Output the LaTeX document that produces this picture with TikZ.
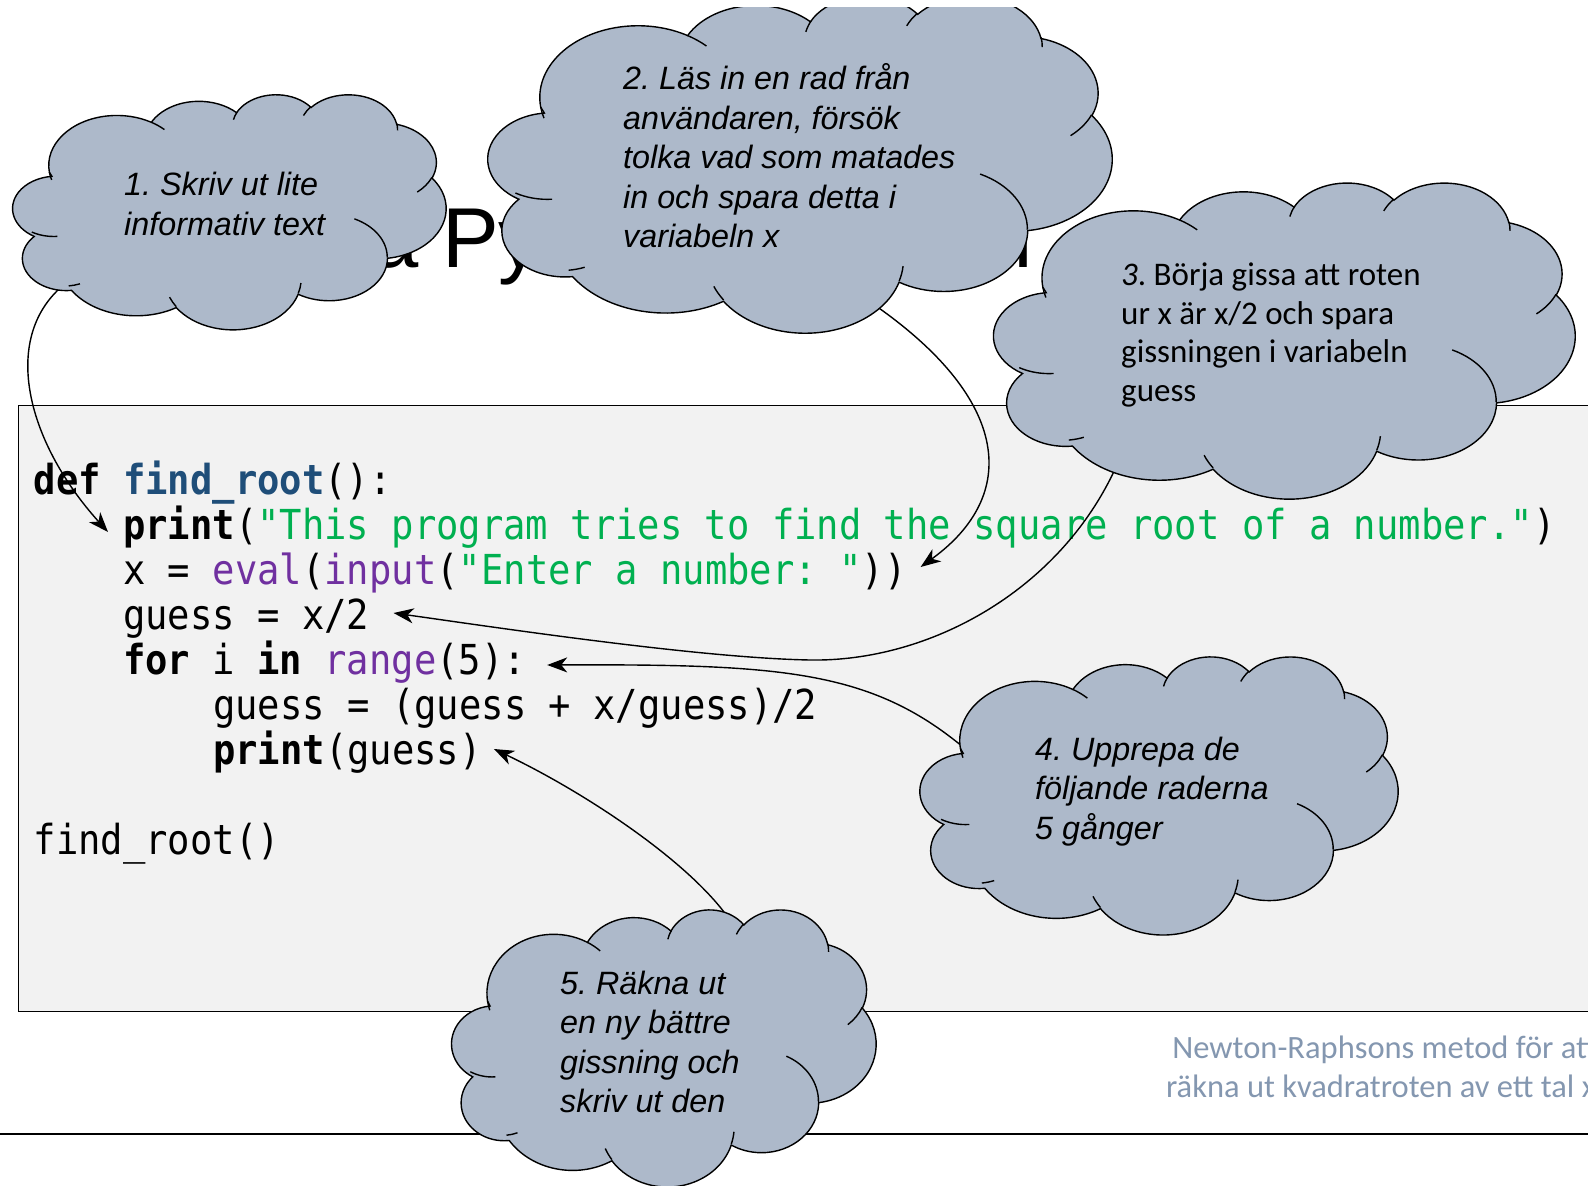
\documentclass[tikz,border=0pt]{standalone}
\usepackage{fontspec}
\usetikzlibrary{arrows.meta}
\newfontfamily\arialfont{Liberation Sans}
\newfontfamily\calfont{Carlito}
\newfontfamily\codefont[FakeStretch=0.9,WordSpace={1,0,0}]{DejaVu Sans Mono}
\definecolor{cloudfill}{RGB}{173,185,202}
\definecolor{codebg}{RGB}{242,242,242}
\definecolor{codegreen}{RGB}{0,176,80}
\definecolor{codepurple}{RGB}{112,48,160}
\definecolor{codeblue}{RGB}{31,78,121}
\definecolor{footblue}{RGB}{132,151,176}
\newcommand\cdkw[1]{{\bfseries #1}}
\newcommand\cdfn[1]{{\bfseries\color{codeblue}#1}}
\newcommand\cdstr[1]{{\color{codegreen}#1}}
\newcommand\cdbi[1]{{\color{codepurple}#1}}
% PowerPoint-like cloud (preset geometry, 432 x 432 grid)
\newcommand\cloudpt[2]{\pgfpoint{\cxo pt+(#1)*\csx pt}{\cyo pt-(#2)*\csy pt}}
\newcommand\cloudarc[4]{%
  \pgfmathsetmacro\cta{atan2((#1)*sin(#3),(#2)*cos(#3))}%
  \pgfmathsetmacro\ctb{atan2((#1)*sin((#3)+(#4)),(#2)*cos((#3)+(#4)))}%
  \pgfmathsetmacro\ctd{mod(\ctb-\cta+720,360)}%
  \pgfmathsetmacro\csa{-\cta}%
  \pgfmathsetmacro\cea{-\cta-\ctd}%
  \pgfmathsetmacro\crx{(#1)*\csx}%
  \pgfmathsetmacro\cry{(#2)*\csy}%
  \pgfpatharc{\csa}{\cea}{\crx pt and \cry pt}}
\newcommand\pptcloud[4]{%
  \begin{pgfscope}%
  \pgfmathsetmacro\cxo{#1}%
  \pgfmathsetmacro\cyo{-(#2)}%
  \pgfmathsetmacro\csx{(#3)/432}%
  \pgfmathsetmacro\csy{(#4)/432}%
  \pgfsetlinewidth{1.4pt}%
  \pgfsetfillcolor{cloudfill}\pgfsetstrokecolor{black}%
  \pgfpathmoveto{\cloudpt{39.00}{143.70}}%
  \cloudarc{67.53}{91.90}{-190.4875}{123.7805}%
  \cloudarc{53.33}{72.67}{-144.1024}{89.9452}%
  \cloudarc{43.65}{59.45}{-145.8079}{99.7230}%
  \cloudarc{48.57}{65.95}{-130.9861}{117.2417}%
  \cloudarc{53.33}{72.73}{-78.7089}{109.0269}%
  \cloudarc{67.75}{92.20}{-46.2673}{130.2690}%
  \cloudarc{57.85}{78.67}{0.6250}{114.0333}%
  \cloudarc{67.52}{92.15}{22.4516}{115.1726}%
  \cloudarc{77.20}{105.43}{66.2426}{71.2549}%
  \cloudarc{43.60}{59.18}{-274.9421}{146.7443}%
  \cloudarc{43.45}{59.45}{-246.8285}{152.5225}%
  \pgfpathclose
  \pgfusepath{fill,stroke}%
  \pgfpathmoveto{\cloudpt{46.93}{261.77}}\cloudarc{43.45}{59.45}{86.7420}{26.4295}%
  \pgfpathmoveto{\cloudpt{69.28}{348.99}}\cloudarc{43.60}{59.18}{73.6105}{11.4475}%
  \pgfpathmoveto{\cloudpt{164.78}{390.90}}\cloudarc{67.52}{92.15}{137.6242}{14.0811}%
  \pgfpathmoveto{\cloudpt{288.27}{347.51}}\cloudarc{67.52}{92.15}{6.4533}{15.9984}%
  \pgfpathmoveto{\cloudpt{341.29}{229.54}}\cloudarc{57.85}{78.67}{-70.2924}{70.9174}%
  \pgfpathmoveto{\cloudpt{417.98}{153.54}}\cloudarc{53.33}{72.73}{30.3180}{27.7515}%
  \pgfpathmoveto{\cloudpt{383.24}{54.26}}\cloudarc{48.57}{65.95}{-13.7443}{14.8589}%
  \pgfpathmoveto{\cloudpt{290.78}{39.52}}\cloudarc{48.57}{65.95}{-149.1815}{18.1954}%
  \pgfpathmoveto{\cloudpt{221.41}{47.20}}\cloudarc{43.65}{59.45}{-163.4943}{17.6864}%
  \pgfpathmoveto{\cloudpt{140.00}{51.92}}\cloudarc{67.53}{91.90}{-66.7070}{12.3194}%
  \pgfpathmoveto{\cloudpt{41.27}{157.89}}\cloudarc{67.53}{91.90}{157.6544}{11.8582}%
  \pgfusepath{stroke}%
  \end{pgfscope}}
\frenchspacing
\tikzset{
  codeline/.style={anchor=base west, inner sep=0pt, font=\codefont\fontsize{41.3}{50}\selectfont},
  cloudtxt/.style={anchor=base west, inner sep=0pt, font=\arialfont\itshape\fontsize{32.3}{39}\selectfont},
  cloudtxtc/.style={anchor=base west, inner sep=0pt, font=\calfont\fontsize{33}{39}\selectfont},
  foottxt/.style={anchor=base east, inner sep=0pt, text=footblue, font=\calfont\fontsize{32.5}{39}\selectfont},
  titletxt/.style={anchor=base west, inner sep=0pt, font=\arialfont\fontsize{85}{100}\selectfont},
  conn/.style={draw=black, line width=1.4pt, -{Stealth[length=20pt,width=15pt,inset=6pt]}},
  codebox/.style={draw=black, line width=1.3pt, fill=codebg, inner sep=0pt, anchor=north west},
}
\begin{document}
\begin{tikzpicture}[x=1pt,y=-1pt]
\useasboundingbox (0,0) rectangle (1588,1186);
\clip (0,0) rectangle (1588,1186);
\fill[white] (0,0) rectangle (1588,1186);
% title (mostly hidden by the clouds)
\node[titletxt] (title) at (50,267) {Vår första Python-funktion};
% code box
\node[codebox, minimum width=1600pt, minimum height=606pt] (box) at (18,405) {};
\node[codeline] (l1) at (33.5,494) {\cdkw{def} \cdfn{find\_root}():};
\node[codeline] (l2) at (123,539) {\cdkw{print}(\cdstr{"This program tries to find the square root of a number."})};
\node[codeline] (l3) at (123,584) {x = \cdbi{eval}(\cdbi{input}(\cdstr{"Enter a number: "}))};
\node[codeline] (l4) at (123,629) {guess = x/2};
\node[codeline] (l5) at (123,674) {\cdkw{for} i \cdkw{in} \cdbi{range}(5):};
\node[codeline] (l6) at (213,719) {guess = (guess + x/guess)/2};
\node[codeline] (l7) at (213,764) {\cdkw{print}(guess)};
\node[codeline] (l8) at (33.5,854) {find\_root()};
% footer
\draw[line width=1.5pt] (0,1134) -- (1588,1134);
\node[foottxt] (f1) at (1597,1058) {Newton-Raphsons metod för att};
\node[foottxt] (f2) at (1596,1097) {räkna ut kvadratroten av ett tal x};
% connector start points on the clouds
\coordinate (k1) at (66,283);
\coordinate (k2) at (876,306);
\coordinate (k3) at (1116,467);
\coordinate (k4) at (963,747);
\coordinate (k5) at (724,912);
% connectors
\draw[conn] (k1) .. controls (0,335) and (25,440) .. ([shift={(-15,-7)}]l2.base west);
\draw[conn] (k2) .. controls (1010,400) and (1020,495) .. ([shift={(14,-17)}]l3.base east);
\draw[conn] (k3) .. controls (1060,590) and (930,662) .. (810,660)
                 .. controls (700,658) and (500,628) .. ([shift={(24,-16)}]l4.base east);
\draw[conn] (k4) .. controls (870,670) and (780,664) .. ([shift={(21,-9)}]l5.base east);
\draw[conn] (k5) .. controls (680,855) and (580,790) .. ([shift={(12,-15)}]l7.base east);
% clouds
\pptcloud{10}{94}{436}{235}
\begin{scope}
\clip (0,7) rectangle (1588,1186);
\pptcloud{484}{-5}{628}{337}
\end{scope}
\pptcloud{990}{182}{585}{316}
\pptcloud{917}{656}{481}{278}
\pptcloud{449}{909}{427}{277}
% cloud texts
\node[cloudtxt] (t1a) at (124,195.5) {1. Skriv ut lite};
\node[cloudtxt] (t1b) at (124,235) {informativ text};
\node[cloudtxt] (t2a) at (623,89) {2. Läs in en rad från};
\node[cloudtxt] (t2b) at (623,129) {användaren, försök};
\node[cloudtxt] (t2c) at (623,168) {tolka vad som matades};
\node[cloudtxt] (t2d) at (623,208) {in och spara detta i};
\node[cloudtxt] (t2e) at (623,247) {variabeln x};
\node[cloudtxtc] (t3a) at (1121,285) {{\itshape 3}. Börja gissa att roten};
\node[cloudtxtc] (t3b) at (1121,324) {ur x är x/2 och spara};
\node[cloudtxtc] (t3c) at (1121,362.5) {gissningen i variabeln};
\node[cloudtxtc] (t3d) at (1121,401) {guess};
\node[cloudtxt] (t4a) at (1035,760) {4. Upprepa de};
\node[cloudtxt] (t4b) at (1035,799) {följande raderna};
\node[cloudtxt] (t4c) at (1035,839) {5 gånger};
\node[cloudtxt] (t5a) at (560,994) {5. Räkna ut};
\node[cloudtxt] (t5b) at (560,1033) {en ny bättre};
\node[cloudtxt] (t5c) at (560,1073) {gissning och};
\node[cloudtxt] (t5d) at (560,1112) {skriv ut den};
\end{tikzpicture}
\end{document}
